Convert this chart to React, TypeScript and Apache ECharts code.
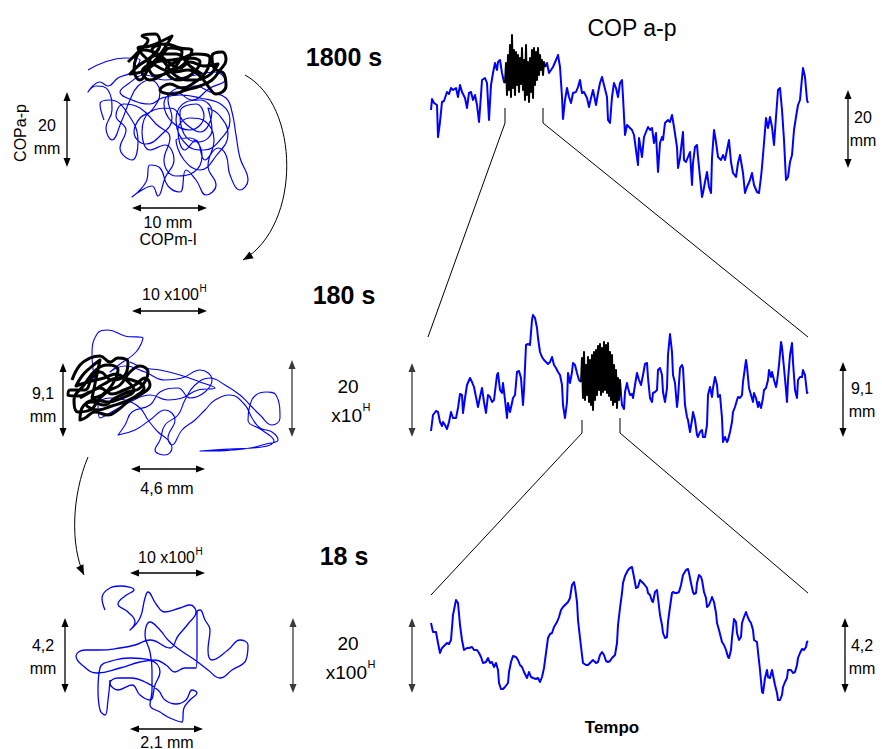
import React, { useEffect, useRef } from "react";
import * as echarts from "echarts";

// ---- COP a-p time series (t in picture units, value = a-p amplitude in picture units) ----
// 1800 s record
const ts1BlueA: number[][] = [
  [0, 90], [1, 101], [3, 97], [6, 95], [7, 63], [9, 78], [11, 98], [13, 99], [16, 108], [18, 106],
  [20, 112], [22, 110], [25, 112], [27, 103], [29, 115], [31, 108], [34, 102], [36, 92], [38, 107], [40, 108],
  [42, 100], [44, 105], [46, 95], [48, 78], [50, 105], [51, 120], [54, 122], [56, 117], [58, 80], [60, 115],
  [62, 127], [64, 137], [66, 130], [67, 138], [69, 140], [71, 127], [73, 118], [74, 117],
];
const ts1Black: number[][] = [
  [74, 117], [75, 137], [76, 105], [77, 145], [78, 110], [79, 155], [80, 103], [81, 165], [82, 112], [83, 150],
  [84, 105], [85, 148], [86, 115], [87, 145], [88, 108], [89, 142], [90, 116], [91, 152], [92, 110], [93, 140],
  [94, 100], [95, 155], [96, 105], [97, 138], [98, 98], [99, 142], [100, 108], [101, 150], [102, 102], [103, 152],
  [104, 115], [105, 148], [106, 120], [107, 152], [108, 125], [109, 145], [110, 130], [111, 140], [112, 125], [113, 138],
  [114, 133],
];
const ts1BlueB: number[][] = [
  [114, 133], [116, 137], [118, 127], [120, 130], [122, 133], [125, 140], [127, 145], [129, 133], [131, 103], [132, 81],
  [134, 100], [136, 112], [138, 103], [140, 97], [142, 107], [145, 108], [147, 113], [149, 120], [151, 107], [153, 108],
  [156, 102], [158, 93], [160, 102], [162, 110], [165, 95], [167, 107], [169, 117], [171, 123], [173, 115], [176, 103],
  [177, 80], [179, 77], [181, 103], [183, 117], [185, 112], [187, 103], [189, 117], [191, 120], [192, 103], [194, 65],
  [196, 75], [198, 73], [201, 70], [203, 65], [205, 50], [207, 35], [208, 62], [211, 43], [213, 63], [215, 68],
  [217, 73], [219, 70], [221, 72], [223, 57], [225, 67], [227, 28], [229, 57], [231, 63], [232, 60], [234, 77],
  [237, 80], [239, 78], [241, 85], [243, 73], [246, 53], [247, 32], [249, 42], [251, 60], [252, 68], [253, 40],
  [255, 38], [257, 43], [259, 48], [261, 15], [262, 37], [264, 53], [266, 55], [267, 43], [269, 23], [271, 3],
  [272, 7], [274, 18], [276, 28], [278, 13], [280, 7], [281, 42], [283, 70], [285, 58], [287, 43], [290, 40],
  [292, 45], [294, 40], [297, 55], [298, 60], [300, 38], [302, 27], [305, 23], [307, 37], [309, 45], [312, 27],
  [314, 7], [316, 13], [319, 20], [321, 27], [323, 15], [326, 8], [328, 7], [330, 23], [331, 33], [333, 57],
  [335, 82], [337, 72], [339, 83], [341, 73], [343, 55], [345, 83], [347, 110], [349, 112], [351, 90], [353, 60],
  [355, 20], [357, 23], [359, 38], [361, 45], [363, 70], [365, 83], [367, 95], [369, 100], [371, 122], [372, 132],
  [374, 123], [376, 100], [377, 97],
];

// 180 s record
const ts2BlueA: number[][] = [
  [0, 19], [2, 35], [5, 39], [7, 38], [9, 28], [11, 24], [12, 28], [14, 25], [16, 21], [18, 28],
  [20, 38], [22, 32], [25, 32], [27, 42], [29, 56], [31, 55], [32, 37], [34, 52], [36, 65], [39, 72],
  [41, 68], [43, 63], [46, 48], [47, 43], [49, 53], [51, 62], [53, 48], [55, 37], [57, 55], [59, 53],
  [61, 48], [63, 50], [66, 75], [67, 77], [69, 60], [71, 57], [72, 67], [74, 50], [76, 32], [77, 47],
  [79, 38], [81, 47], [82, 52], [84, 55], [86, 78], [88, 79], [90, 72], [92, 45], [93, 60], [95, 105],
  [97, 106], [99, 105], [101, 130], [102, 135], [104, 132], [106, 122], [107, 112], [109, 98], [111, 93], [113, 90],
  [115, 88], [117, 86], [119, 88], [121, 93], [123, 85], [125, 82], [127, 78], [129, 75], [131, 65], [132, 45],
  [134, 32], [136, 48], [137, 77], [139, 67], [141, 78], [142, 87], [144, 85], [146, 77], [148, 70], [150, 68],
];
const ts2Black: number[][] = [
  [150, 68], [151, 92], [152, 52], [153, 98], [154, 50], [155, 85], [156, 55], [157, 93], [158, 48], [159, 90],
  [160, 45], [161, 95], [162, 40], [163, 98], [164, 50], [165, 100], [166, 55], [167, 104], [168, 60], [169, 106],
  [170, 55], [171, 102], [172, 58], [173, 108], [174, 60], [175, 105], [176, 57], [177, 107], [178, 54], [179, 98],
  [180, 50], [181, 95], [182, 45], [183, 85], [184, 48], [185, 80], [186, 42], [187, 72], [188, 50], [189, 70],
  [190, 55],
];
const ts2BlueB: number[][] = [
  [190, 55], [191, 45], [193, 41], [194, 58], [196, 67], [197, 62], [199, 55], [201, 56], [202, 52], [204, 65],
  [206, 77], [208, 70], [210, 65], [212, 75], [214, 86], [216, 87], [217, 72], [219, 52], [221, 48], [222, 57],
  [224, 58], [226, 60], [227, 80], [229, 82], [231, 75], [232, 58], [234, 48], [236, 62], [237, 95], [239, 116],
  [241, 98], [242, 75], [244, 67], [246, 43], [247, 52], [249, 82], [251, 85], [252, 82], [254, 45], [256, 33],
  [257, 30], [259, 18], [261, 30], [262, 38], [264, 30], [266, 15], [267, 13], [269, 18], [271, 20], [272, 13],
  [274, 13], [276, 25], [277, 55], [279, 63], [281, 53], [282, 62], [284, 73], [286, 65], [287, 53], [289, 55],
  [291, 32], [292, 8], [294, 13], [296, 8], [297, 10], [299, 18], [301, 28], [302, 38], [304, 43], [306, 50],
  [307, 53], [309, 52], [311, 55], [312, 68], [315, 90], [316, 83], [318, 62], [320, 55], [322, 48], [323, 57],
  [325, 52], [327, 43], [328, 48], [330, 42], [332, 52], [333, 60], [335, 62], [337, 70], [338, 80], [340, 73],
  [341, 78], [343, 70], [345, 63], [346, 68], [348, 85], [350, 108], [351, 103], [353, 82], [355, 60], [356, 48],
  [357, 70], [359, 95], [361, 107], [362, 88], [364, 60], [366, 52], [367, 70], [369, 73], [371, 73], [372, 80],
  [374, 75], [376, 57], [377, 58],
];

// 18 s record
const ts3Blue: number[][] = [
  [0, 102], [2, 93], [5, 93], [7, 82], [9, 72], [11, 77], [13, 79], [16, 82], [18, 81], [20, 85],
  [22, 110], [25, 125], [27, 122], [29, 100], [31, 85], [33, 75], [36, 77], [38, 77], [41, 78], [43, 75],
  [46, 75], [48, 72], [50, 68], [52, 62], [55, 63], [57, 67], [59, 62], [61, 63], [63, 58], [65, 62],
  [67, 55], [68, 42], [70, 36], [72, 36], [74, 38], [77, 42], [78, 53], [80, 63], [82, 69], [85, 68],
  [87, 65], [89, 60], [91, 58], [93, 53], [96, 47], [98, 53], [100, 48], [102, 47], [105, 46], [107, 47],
  [109, 43], [111, 48], [113, 57], [115, 72], [117, 87], [119, 91], [121, 92], [123, 98], [126, 103], [128, 108],
  [130, 115], [132, 118], [135, 121], [137, 123], [139, 127], [141, 140], [143, 143], [144, 138], [146, 123], [147, 105],
  [149, 87], [151, 70], [152, 62], [155, 60], [157, 60], [160, 63], [162, 65], [165, 62], [167, 63], [169, 70],
  [171, 73], [173, 70], [175, 64], [177, 63], [179, 64], [181, 67], [184, 70], [186, 82], [187, 100], [189, 117],
  [191, 132], [192, 142], [194, 149], [197, 155], [199, 157], [201, 158], [203, 148], [205, 137], [207, 138], [209, 145],
  [211, 143], [213, 141], [216, 137], [217, 132], [219, 130], [221, 124], [222, 123], [224, 133], [226, 135], [227, 127],
  [229, 110], [231, 100], [232, 92], [234, 87], [236, 88], [237, 103], [239, 118], [241, 132], [242, 133], [244, 132],
  [246, 132], [248, 133], [250, 140], [252, 150], [255, 155], [257, 156], [258, 152], [260, 142], [262, 133], [263, 131],
  [265, 132], [266, 142], [268, 150], [270, 148], [271, 145], [273, 133], [275, 127], [276, 118], [278, 120], [280, 125],
  [281, 128], [283, 123], [285, 112], [286, 102], [288, 95], [290, 87], [291, 83], [293, 80], [295, 75], [297, 68],
  [298, 67], [300, 75], [301, 87], [303, 106], [305, 103], [306, 92], [308, 85], [310, 88], [311, 102], [313, 108],
  [315, 113], [316, 110], [318, 105], [320, 102], [322, 95], [323, 85], [326, 83], [327, 73], [329, 55], [331, 33],
  [332, 32], [334, 47], [336, 55], [337, 48], [339, 47], [341, 55], [342, 50], [344, 40], [346, 32], [347, 25],
  [349, 25], [351, 30], [352, 38], [354, 43], [356, 47], [357, 55], [360, 55], [362, 52], [364, 53], [366, 60],
  [367, 67], [369, 72], [371, 76], [373, 75], [375, 78], [376, 83], [377, 84],
];

// ---- Stabilograms: [COP m-l, COP a-p] in picture units ----
const stab1Blue: number[][] = [
  [8, 130], [25, 138], [45, 142], [60, 140], [52, 128], [38, 122], [28, 114], [20, 118], [8, 108], [16, 114],
  [28, 110], [32, 90], [26, 72], [32, 60], [42, 80], [50, 100], [58, 114], [70, 120], [80, 108], [72, 90],
  [60, 82], [54, 68], [66, 56], [80, 64], [92, 82], [88, 100], [98, 112], [116, 114], [130, 108], [146, 102],
  [152, 88], [156, 65], [160, 42], [168, 20], [160, 10], [150, 25], [146, 45], [138, 52], [125, 40], [116, 60],
  [105, 50], [98, 70], [110, 82], [126, 78], [134, 60], [128, 34], [136, 15], [126, 5], [116, 20], [106, 30],
  [100, 8], [88, 14], [80, 32], [70, 35], [66, 18], [52, 3], [62, 10], [72, 14], [78, 4], [85, 22],
  [94, 40], [85, 55], [70, 50], [62, 68], [70, 88], [90, 92], [106, 76], [120, 68], [132, 88], [120, 100],
  [106, 98], [96, 80], [108, 54], [124, 50], [140, 60], [150, 80], [142, 95], [120, 102], [100, 105], [82, 102],
  [70, 96], [52, 100], [40, 108], [48, 116], [65, 125], [85, 120], [110, 124], [135, 128], [145, 120], [130, 112],
  [112, 100], [96, 108], [84, 96], [92, 78], [110, 70], [124, 84], [116, 96], [100, 88], [104, 66], [118, 58],
  [132, 70], [128, 92], [140, 84], [148, 66], [136, 44], [120, 30], [104, 40], [96, 60], [110, 62], [122, 44],
  [114, 28], [96, 24], [84, 40], [90, 62], [76, 76], [60, 92], [44, 96], [36, 84], [46, 70], [40, 52],
  [52, 40], [58, 58], [48, 86], [30, 100], [20, 96], [24, 80],
];
const stab1Black: number[][] = [
  [48, 138], [60, 150], [68, 160], [62, 164], [75, 166], [80, 156], [72, 144], [58, 134], [50, 126], [66, 130],
  [80, 142], [90, 152], [102, 148], [96, 134], [84, 126], [70, 120], [62, 128], [76, 138], [92, 140], [108, 142],
  [120, 138], [112, 126], [98, 120], [86, 130], [100, 140], [116, 146], [130, 142], [126, 128], [115, 118], [102, 112],
  [90, 116], [80, 110], [92, 106], [106, 110], [120, 114], [132, 120], [140, 130], [146, 140], [142, 148], [132, 144],
  [134, 132], [144, 126], [146, 114], [136, 106], [128, 114], [120, 124], [108, 130], [94, 128], [80, 132], [66, 142],
  [58, 152], [70, 154], [84, 160], [92, 164], [82, 148], [70, 134], [60, 120], [54, 130], [64, 150], [78, 146],
  [88, 138], [100, 132], [110, 138], [124, 134], [138, 136], [128, 124], [112, 120], [96, 124], [84, 138], [72, 150],
  [86, 156], [100, 152], [112, 150], [104, 136], [90, 128], [76, 124], [68, 136], [80, 146], [96, 146], [110, 134],
  [122, 126],
];
const stab2Blue: number[][] = [
  [35, 80], [32, 105], [37, 126], [48, 130], [65, 124], [83, 122], [76, 108], [60, 96], [50, 88], [65, 94],
  [85, 88], [105, 80], [122, 82], [140, 90], [152, 80], [145, 68], [130, 62], [118, 72], [100, 68], [90, 55],
  [72, 48], [65, 35], [58, 25], [75, 30], [90, 40], [105, 50], [115, 40], [108, 22], [112, 15], [122, 30],
  [135, 40], [145, 50], [155, 60], [170, 65], [185, 55], [192, 42], [200, 32], [212, 28], [218, 20], [206, 16],
  [190, 12], [172, 10], [154, 9], [140, 9], [170, 11], [202, 13], [214, 19], [202, 30], [188, 40], [190, 55],
  [196, 65], [206, 68], [216, 65], [220, 42], [212, 35], [200, 45], [190, 55], [180, 65], [165, 75], [150, 82],
  [135, 75], [125, 60], [118, 45], [105, 35], [100, 20], [95, 10], [105, 5], [112, 12], [108, 20], [98, 28],
  [88, 40], [80, 52], [65, 60], [50, 62], [38, 55], [40, 42], [55, 50], [70, 58], [90, 65], [108, 60],
  [122, 62], [138, 70], [155, 72], [140, 78], [120, 85], [100, 90], [85, 92], [70, 98],
];
const stab2Black: number[][] = [
  [12, 80], [20, 95], [30, 102], [40, 104], [50, 98], [58, 102], [68, 98], [65, 85], [52, 80], [40, 88],
  [32, 82], [25, 70], [10, 70], [8, 65], [18, 64], [30, 68], [40, 72], [52, 66], [64, 70], [75, 75],
  [85, 82], [90, 75], [80, 65], [70, 60], [58, 50], [48, 45], [35, 48], [25, 42], [20, 40], [22, 52],
  [32, 58], [44, 55], [55, 62], [68, 68], [80, 72], [88, 88], [80, 94], [70, 88], [60, 75], [50, 70],
  [40, 62], [30, 50], [18, 48], [14, 60], [24, 75], [36, 90], [48, 95], [58, 90], [52, 75], [42, 65],
  [32, 62], [40, 100], [30, 92], [22, 84], [16, 74], [28, 78], [44, 82], [56, 86], [66, 80], [74, 70],
  [62, 62], [48, 58], [36, 60], [26, 56], [38, 50], [52, 54], [64, 58], [76, 64], [84, 72], [72, 80],
  [58, 82], [44, 76], [34, 70], [20, 62],
];
const stab3Blue: number[][] = [
  [35, 115], [32, 127], [40, 137], [50, 139], [64, 135], [55, 129], [48, 121], [58, 113], [65, 103], [60, 95],
  [70, 107], [75, 127], [78, 133], [86, 121], [95, 113], [110, 117], [120, 120], [126, 113], [118, 101], [108, 89],
  [100, 77], [80, 85], [65, 80], [50, 77], [30, 75], [15, 75], [6, 69], [12, 60], [27, 52], [50, 57],
  [70, 63], [85, 65], [96, 60], [105, 53], [115, 57], [126, 57], [127, 75], [127, 95], [127, 113], [130, 115],
  [135, 105], [140, 95], [138, 75], [142, 65], [158, 75], [170, 85], [178, 80], [176, 65], [162, 55], [150, 47],
  [138, 55], [125, 65], [110, 75], [98, 85], [90, 95], [80, 103], [75, 90], [80, 73], [82, 55], [82, 35],
  [80, 20], [90, 13], [100, 7], [112, 3], [114, 17], [120, 25], [127, 32], [122, 35], [116, 25], [106, 21],
  [95, 25], [88, 35], [75, 43], [62, 47], [48, 47], [40, 42], [48, 35], [62, 40], [70, 30], [80, 25],
  [85, 40], [90, 53], [80, 65], [60, 67], [45, 65], [30, 57], [28, 35], [30, 15], [35, 10], [38, 25],
  [40, 45],
];

// panel frames: time series panels then stabilogram panels
const panels = [
  { left: 431, top: 30, width: 377, height: 170 },
  { left: 431, top: 310, width: 377, height: 140 },
  { left: 431, top: 560, width: 377, height: 165 },
  { left: 80, top: 30, width: 180, height: 170 },
  { left: 60, top: 320, width: 230, height: 140 },
  { left: 70, top: 575, width: 190, height: 150 },
];

const BLUE = "#0000ff";
const FONT = "'Liberation Sans', Arial, sans-serif";

function head(tx: number, ty: number, fx: number, fy: number, color: string, len = 9, half = 3.5) {
  const dx = tx - fx;
  const dy = ty - fy;
  const L = Math.hypot(dx, dy);
  const ux = dx / L;
  const uy = dy / L;
  const bx = tx - ux * len;
  const by = ty - uy * len;
  return {
    type: "polygon",
    silent: true,
    shape: { points: [[tx, ty], [bx - uy * half, by + ux * half], [bx + uy * half, by - ux * half]] },
    style: { fill: color },
  };
}
function vArrow(x: number, y1: number, y2: number, color = "#000") {
  return [
    { type: "line", silent: true, shape: { x1: x, y1: y1 + 6, x2: x, y2: y2 - 6 }, style: { stroke: color, lineWidth: 1.3 } },
    head(x, y1, x, y1 + 10, color),
    head(x, y2, x, y2 - 10, color),
  ];
}
function hArrow(x1: number, x2: number, y: number, color = "#000") {
  return [
    { type: "line", silent: true, shape: { x1: x1 + 6, y1: y, x2: x2 - 6, y2: y }, style: { stroke: color, lineWidth: 1.3 } },
    head(x1, y, x1 + 10, y, color),
    head(x2, y, x2 - 10, y, color),
  ];
}
function txt(text: string, x: number, y: number, size = 16, extra: any = {}) {
  return {
    type: "text",
    silent: true,
    x,
    y,
    rotation: extra.rotation || 0,
    style: {
      text,
      fontSize: size,
      fontFamily: FONT,
      fontWeight: extra.bold ? "bold" : "normal",
      fill: extra.fill || "#000",
      align: extra.align || "center",
      verticalAlign: "middle",
    },
  };
}
function seg(x1: number, y1: number, x2: number, y2: number, color = "#000", w = 1) {
  return { type: "line", silent: true, shape: { x1, y1, x2, y2 }, style: { stroke: color, lineWidth: w } };
}
function curve(x1: number, y1: number, c1x: number, c1y: number, c2x: number, c2y: number, x2: number, y2: number) {
  return [
    {
      type: "bezierCurve",
      silent: true,
      shape: { x1, y1, cpx1: c1x, cpy1: c1y, cpx2: c2x, cpy2: c2y, x2, y2 },
      style: { stroke: "#000", fill: "none", lineWidth: 1 },
    },
    head(x2, y2, c2x, c2y, "#000", 10, 4),
  ];
}

const DARK = "#3a3a3a";

const graphics: any[] = [
  // top section
  txt("COPa-p", 20, 133, 16, { rotation: Math.PI / 2 }),
  txt("20", 47, 125),
  txt("mm", 47, 148),
  ...vArrow(67, 92, 167),
  ...hArrow(132, 207, 208),
  txt("10 mm", 168, 222),
  txt("COPm-l", 168, 239),
  ...curve(245, 75, 300, 105, 302, 225, 243, 260),
  txt("1800 s", 344, 57, 25, { bold: true }),
  txt("COP a-p", 632, 28, 23),
  ...vArrow(848, 90, 168),
  txt("20", 863, 117),
  txt("mm", 863, 140),
  seg(505, 108, 505, 123, "#555", 1.5),
  seg(543, 108, 543, 123, "#555", 1.5),
  seg(505, 123, 428, 337),
  seg(543, 123, 808, 337),

  // middle section
  txt("10 x100", 199, 294, 16, { align: "right" }),
  txt("H", 199.5, 288, 10, { align: "left" }),
  ...hArrow(132, 207, 311),
  txt("180 s", 344, 295, 25, { bold: true }),
  txt("9,1", 43, 393),
  txt("mm", 43, 416),
  ...vArrow(63, 363, 437),
  ...hArrow(131, 205, 469),
  txt("4,6 mm", 167, 488),
  ...vArrow(292, 360, 437, DARK),
  txt("20", 348, 386, 19),
  txt("x10", 362, 415, 19, { align: "right" }),
  txt("H", 362.5, 407, 11, { align: "left" }),
  ...vArrow(412, 363, 437, DARK),
  ...vArrow(843, 362, 437),
  txt("9,1", 862, 388),
  txt("mm", 862, 411),
  seg(582, 420, 582, 433, "#555", 1.5),
  seg(620, 418, 620, 433, "#555", 1.5),
  seg(582, 433, 431, 595),
  seg(620, 433, 808, 593),
  ...curve(88, 457, 72, 495, 70, 545, 84, 575),

  // bottom section
  txt("10 x100", 195, 557, 16, { align: "right" }),
  txt("H", 195.5, 551, 10, { align: "left" }),
  ...hArrow(130, 205, 573),
  txt("18 s", 344, 556, 25, { bold: true }),
  txt("4,2", 43, 645),
  txt("mm", 43, 668),
  ...vArrow(65, 618, 693),
  ...vArrow(293, 618, 693, DARK),
  txt("20", 348, 643, 19),
  txt("x100", 367, 672, 19, { align: "right" }),
  txt("H", 367.5, 664, 11, { align: "left" }),
  ...vArrow(412, 618, 693, DARK),
  ...vArrow(845, 618, 693),
  txt("4,2", 862, 645),
  txt("mm", 862, 668),
  txt("Tempo", 612, 727, 17, { bold: true }),
  ...hArrow(130, 203, 729),
  txt("2,1 mm", 167, 742),
];

function lineSeries(idx: number, data: number[][], color: string, width: number, smooth: number | boolean = false) {
  return {
    type: "line",
    xAxisIndex: idx,
    yAxisIndex: idx,
    data,
    symbol: "none",
    showSymbol: false,
    silent: true,
    clip: false,
    smooth,
    lineStyle: { color, width, join: "round" },
    emphasis: { disabled: true },
  };
}

export default function App() {
  const ref = useRef<HTMLDivElement>(null);
  useEffect(() => {
    if (!ref.current) return;
    const chart = echarts.init(ref.current, null, { renderer: "svg" });
    const option: any = {
      animation: false,
      backgroundColor: "#ffffff",
      grid: panels.map((p) => ({ left: p.left, top: p.top, width: p.width, height: p.height, containLabel: false })),
      xAxis: panels.map((p, i) => ({ type: "value", gridIndex: i, min: 0, max: p.width, show: false })),
      yAxis: panels.map((p, i) => ({ type: "value", gridIndex: i, min: 0, max: p.height, show: false })),
      series: [
        lineSeries(0, ts1BlueA, BLUE, 2),
        lineSeries(0, ts1BlueB, BLUE, 2),
        lineSeries(0, ts1Black, "#000", 2),
        lineSeries(1, ts2BlueA, BLUE, 2),
        lineSeries(1, ts2BlueB, BLUE, 2),
        lineSeries(1, ts2Black, "#000", 2),
        lineSeries(2, ts3Blue, BLUE, 2),
        lineSeries(3, stab1Blue, BLUE, 1.2, 0.45),
        lineSeries(3, stab1Black, "#000", 3, 0.45),
        lineSeries(4, stab2Blue, BLUE, 1.1, 0.45),
        lineSeries(4, stab2Black, "#000", 3, 0.45),
        lineSeries(5, stab3Blue, BLUE, 1.3, 0.45),
      ],
      graphic: graphics,
    };
    chart.setOption(option);
    return () => chart.dispose();
  }, []);
  return (
    <div
      ref={ref}
      style={{ position: "absolute", left: 0, top: 0, width: 882, height: 749, background: "#fff" }}
    />
  );
}
